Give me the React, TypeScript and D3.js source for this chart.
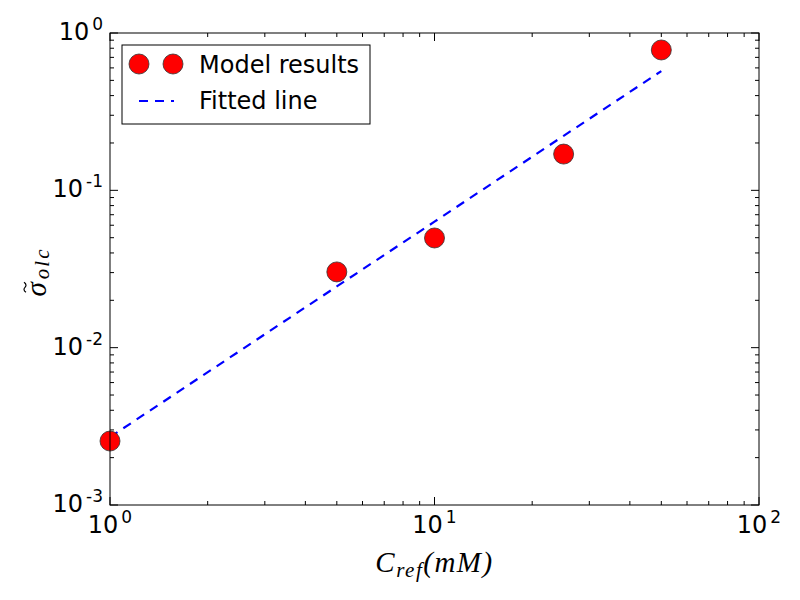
import { useEffect, useRef } from 'react'
import * as d3 from 'd3'

// concentrations (mM) and model values
const concentrations = [1, 5, 10, 25, 50]
const modelValues = [0.00255, 0.0303, 0.0498, 0.17, 0.78]
const fittedValues = [0.0027, 0.0245, 0.0632, 0.222, 0.573]

const xTickExps = [0, 1, 2]
const yTickExps = [-3, -2, -1, 0]

export default function App() {
  const svgRef = useRef<SVGSVGElement>(null)

  useEffect(() => {
    if (!svgRef.current) return
    const width = 800
    const height = 600
    const margin = { top: 33, right: 41, bottom: 95, left: 110 }
    const W = width - margin.left - margin.right
    const H = height - margin.top - margin.bottom

    const svg = d3.select(svgRef.current)
    svg.selectAll('*').remove()

    const x = d3.scaleLog().domain([1, 100]).range([0, W])
    const y = d3.scaleLog().domain([1e-3, 1]).range([H, 0])

    const g = svg.append('g').attr('transform', `translate(${margin.left},${margin.top})`)
    const font = 'DejaVu Sans, sans-serif'
    const serif = 'Liberation Serif, DejaVu Serif, serif'
    const dash = '9 7'

    // fitted line
    g.append('path')
      .datum(concentrations.map((c, i) => [c, fittedValues[i]] as [number, number]))
      .attr('d', d3.line<[number, number]>().x(d => x(d[0])).y(d => y(d[1])))
      .attr('fill', 'none')
      .attr('stroke', '#0000ff')
      .attr('stroke-width', 2.2)
      .attr('stroke-dasharray', dash)

    // markers
    g.append('g')
      .selectAll('circle')
      .data(concentrations)
      .join('circle')
      .attr('cx', d => x(d))
      .attr('cy', (_, i) => y(modelValues[i]))
      .attr('r', 10)
      .attr('fill', '#ff0000')
      .attr('stroke', '#333')
      .attr('stroke-width', 0.8)

    // ticks (inside, all four sides)
    const xMinor: number[] = []
    for (let e = 0; e < 2; e++) for (let k = 2; k < 10; k++) xMinor.push(k * 10 ** e)
    const yMinor: number[] = []
    for (let e = -3; e < 0; e++) for (let k = 2; k < 10; k++) yMinor.push(k * 10 ** e)

    const ticks = g.append('g').attr('stroke', '#000').attr('stroke-width', 1)
    const xt = (v: number, len: number) => {
      ticks.append('line').attr('x1', x(v)).attr('x2', x(v)).attr('y1', H).attr('y2', H - len)
      ticks.append('line').attr('x1', x(v)).attr('x2', x(v)).attr('y1', 0).attr('y2', len)
    }
    const yt = (v: number, len: number) => {
      ticks.append('line').attr('x1', 0).attr('x2', len).attr('y1', y(v)).attr('y2', y(v))
      ticks.append('line').attr('x1', W).attr('x2', W - len).attr('y1', y(v)).attr('y2', y(v))
    }
    xMinor.forEach(v => xt(v, 4))
    xTickExps.forEach(e => xt(10 ** e, 8))
    yMinor.forEach(v => yt(v, 4))
    yTickExps.forEach(e => yt(10 ** e, 8))

    g.append('rect')
      .attr('width', W).attr('height', H)
      .attr('fill', 'none').attr('stroke', '#000').attr('stroke-width', 1)

    // tick labels
    const powerLabel = (sel: d3.Selection<SVGTextElement, unknown, null, undefined>, e: number) => {
      sel.append('tspan').text('10')
      sel.append('tspan').attr('dx', 3).attr('dy', -10).attr('font-size', 17).text(String(e))
    }
    xTickExps.forEach(e => {
      const t = g.append('text')
        .attr('x', x(10 ** e)).attr('y', H + 28)
        .attr('text-anchor', 'middle')
        .attr('font-family', font).attr('font-size', 24)
      powerLabel(t as any, e)
    })
    yTickExps.forEach(e => {
      const t = g.append('text')
        .attr('x', -7).attr('y', y(10 ** e) + 7)
        .attr('text-anchor', 'end')
        .attr('font-family', font).attr('font-size', 24)
      powerLabel(t as any, e)
    })

    // x axis label
    const xl = svg.append('text')
      .attr('x', margin.left + W / 2).attr('y', 572)
      .attr('text-anchor', 'middle')
      .attr('font-family', serif).attr('font-style', 'italic').attr('font-size', 29)
      .attr('letter-spacing', 1.5)
    xl.append('tspan').text('C')
    xl.append('tspan').attr('dy', 5).attr('font-size', 21).text('ref')
    xl.append('tspan').attr('dy', -5).text('(mM)')

    // y axis label (sigma with tilde)
    const yg = svg.append('g').attr('transform', `translate(46,${margin.top + H / 2 + 3}) rotate(-90)`)
    const sig = yg.append('text')
      .attr('font-family', serif).attr('font-style', 'italic').attr('font-size', 29)
      .text('σ')
    const sub = yg.append('text')
      .attr('font-family', serif).attr('font-style', 'italic').attr('font-size', 21)
      .attr('letter-spacing', 2)
      .text('olc')
    const sw = (sig.node() as SVGTextElement).getComputedTextLength()
    const bw = (sub.node() as SVGTextElement).getComputedTextLength()
    const x0 = -(sw + bw + 3) / 2
    sig.attr('x', x0).attr('y', 0)
    sub.attr('x', x0 + sw + 3).attr('y', 3)
    const tc = x0 + sw / 2 + 2
    yg.append('path')
      .attr('d', `M${tc - 5},-20 C${tc - 3},-23 ${tc - 1},-22 ${tc},-21 S${tc + 3},-19 ${tc + 5},-22`)
      .attr('fill', 'none').attr('stroke', '#000').attr('stroke-width', 1.2)

    // legend
    const lg = svg.append('g').attr('transform', 'translate(122,45)')
    lg.append('rect')
      .attr('width', 248).attr('height', 79)
      .attr('fill', '#fff').attr('stroke', '#000').attr('stroke-width', 1)
    ;[17, 51].forEach(cx => {
      lg.append('circle').attr('cx', cx).attr('cy', 19).attr('r', 10)
        .attr('fill', '#ff0000').attr('stroke', '#333').attr('stroke-width', 0.8)
    })
    lg.append('line')
      .attr('x1', 17).attr('x2', 52).attr('y1', 56).attr('y2', 56)
      .attr('stroke', '#0000ff').attr('stroke-width', 2.2).attr('stroke-dasharray', dash)
    lg.append('text').attr('x', 77).attr('y', 28)
      .attr('font-family', font).attr('font-size', 24).text('Model results')
    lg.append('text').attr('x', 77).attr('y', 64)
      .attr('font-family', font).attr('font-size', 24).text('Fitted line')
  }, [])

  return (
    <svg
      ref={svgRef}
      width={800}
      height={600}
      style={{ position: 'absolute', left: 0, top: 0, background: '#fff' }}
    />
  )
}
